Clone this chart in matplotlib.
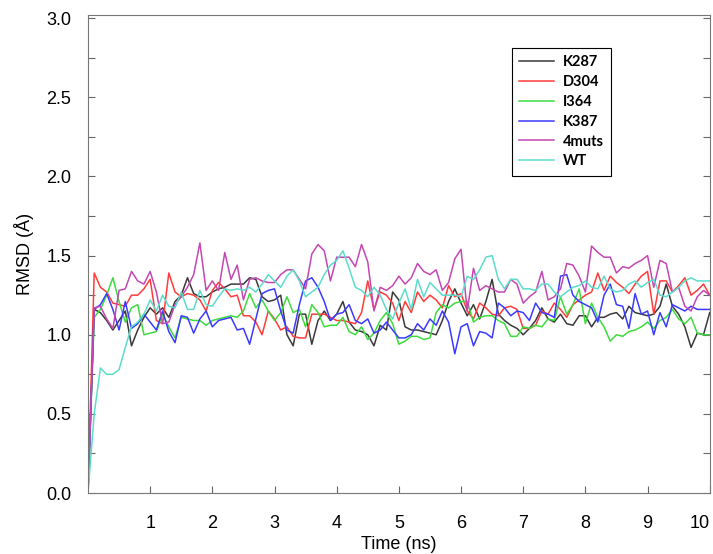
import numpy as np
import matplotlib
matplotlib.use("Agg")
import matplotlib.pyplot as plt
from matplotlib.ticker import MultipleLocator

# RMSD traces, one value every 0.1 ns (0..10 ns)
time_ns = np.arange(101) / 10.0

k287 = [0.0,
        1.16, 1.14, 1.09, 1.03, 1.09, 1.15, 0.93, 1.03, 1.11, 1.17, 1.13, 1.17, 1.11, 1.21, 1.25, 1.36, 1.26,
        1.24, 1.24, 1.27, 1.29, 1.30, 1.32, 1.32,
        1.32, 1.36, 1.35, 1.24, 1.21, 1.22, 1.25, 1.00, 0.93, 1.13, 1.13, 0.94, 1.09, 1.15, 1.09, 1.13, 1.21,
        1.08, 1.03, 1.02, 1.00, 0.93, 1.06, 1.03, 1.27, 1.22,
        1.05, 1.03, 1.03, 1.02, 1.01, 1.00, 1.09, 1.21, 1.29, 1.20, 1.12, 1.19, 1.10, 1.21, 1.35, 1.13, 1.09,
        1.06, 1.04, 1.00, 1.04, 1.09, 1.17, 1.10, 1.08,
        1.13, 1.07, 1.06, 1.12, 1.12, 1.05, 1.11, 1.11, 1.13, 1.14, 1.10, 1.18, 1.14, 1.13, 1.12, 1.13, 1.18,
        1.32, 1.18, 1.13, 1.05, 0.92, 1.01, 1.00, 1.14]

d304 = [0.0,
        1.39, 1.30, 1.27, 1.20, 1.19, 1.18, 1.25, 1.25, 1.29, 1.35, 1.09, 1.07, 1.39, 1.27, 1.24, 1.26, 1.25,
        1.22, 1.15, 1.28, 1.33, 1.29, 1.24, 1.25,
        1.12, 1.12, 1.08, 1.00, 1.15, 1.10, 1.03, 1.05, 0.99, 0.98, 0.98, 1.13, 1.13, 1.13, 1.11, 1.09, 1.09,
        1.08, 1.07, 1.14, 1.34, 1.16, 1.27, 1.25, 1.20, 1.09,
        1.21, 1.14, 1.27, 1.21, 1.25, 1.22, 1.17, 1.31, 1.24, 1.26, 1.15, 1.10, 1.20, 1.17, 1.13, 1.12, 1.17,
        1.18, 1.16, 1.04, 1.04, 1.06, 1.15, 1.13, 1.20,
        1.16, 1.11, 1.19, 1.22, 1.25, 1.27, 1.39, 1.28, 1.37, 1.33, 1.30, 1.26, 1.32, 1.37, 1.40, 1.13, 1.34,
        1.34, 1.27, 1.31, 1.36, 1.25, 1.28, 1.32, 1.25]

i364 = [0.0,
        1.11, 1.16, 1.25, 1.36, 1.21, 1.08, 1.17, 1.19, 1.00, 1.01, 1.02, 1.13, 1.05, 0.98, 1.11, 1.10, 1.09,
        1.09, 1.06, 1.09, 1.10, 1.11, 1.12, 1.11,
        1.15, 1.26, 1.17, 1.22, 1.15, 1.09, 1.14, 1.24, 1.14, 1.16, 1.05, 1.19, 1.14, 1.05, 1.06, 1.06, 1.11,
        1.02, 1.00, 1.05, 0.97, 1.01, 1.09, 1.14, 1.07, 0.94,
        0.96, 0.99, 0.99, 0.97, 0.98, 1.14, 1.19, 1.17, 1.20, 1.21, 1.21, 1.08, 1.11, 1.12, 1.12, 1.09, 1.07,
        0.99, 0.99, 1.05, 1.04, 1.06, 1.05, 1.10, 1.09,
        1.24, 1.13, 1.19, 1.29, 1.07, 1.20, 1.11, 1.05, 0.96, 1.00, 0.99, 1.02, 1.03, 1.05, 1.08, 1.04, 1.09,
        1.11, 1.16, 1.10, 1.07, 1.11, 1.01, 1.00, 1.00]

k387 = [0.0,
        1.16, 1.19, 1.26, 1.16, 1.03, 1.21, 1.04, 1.07, 1.13, 1.08, 1.03, 1.15, 1.02, 0.95, 1.12, 1.11, 1.01,
        1.10, 1.15, 1.05, 1.09, 1.10, 1.11, 1.03,
        1.04, 0.94, 1.10, 1.26, 1.28, 1.29, 1.15, 1.03, 1.01, 1.19, 1.34, 1.36, 1.30, 1.21, 1.09, 1.13, 1.14,
        1.19, 1.09, 1.07, 1.10, 1.01, 1.03, 1.08, 1.03, 0.98,
        0.98, 1.00, 1.07, 1.03, 1.10, 1.06, 1.15, 1.08, 0.88, 1.05, 1.07, 0.93, 1.02, 1.01, 0.98, 1.20, 1.17,
        1.12, 1.15, 1.14, 1.09, 1.20, 1.14, 1.13, 1.11,
        1.37, 1.38, 1.25, 1.21, 1.19, 1.17, 1.08, 1.25, 1.32, 1.19, 1.18, 1.04, 1.26, 1.13, 1.15, 1.00, 1.14,
        1.05, 1.19, 1.17, 1.15, 1.18, 1.16, 1.16, 1.16]

muts4 = [0.0,
         1.17, 1.18, 1.10, 1.04, 1.28, 1.29, 1.40, 1.34, 1.32, 1.40, 1.27, 1.07, 1.08, 1.19, 1.24, 1.30, 1.38,
         1.58, 1.28, 1.34, 1.28, 1.52, 1.35, 1.44,
         1.22, 1.35, 1.36, 1.34, 1.33, 1.33, 1.38, 1.41, 1.41, 1.35, 1.29, 1.51, 1.57, 1.53, 1.34, 1.49, 1.49,
         1.49, 1.43, 1.57, 1.46, 1.15, 1.30, 1.28, 1.31, 1.37,
         1.32, 1.36, 1.45, 1.40, 1.38, 1.41, 1.28, 1.33, 1.48, 1.54, 1.15, 1.42, 1.28, 1.31, 1.29, 1.27, 1.27,
         1.35, 1.32, 1.20, 1.24, 1.27, 1.40, 1.22, 1.24,
         1.29, 1.45, 1.44, 1.37, 1.27, 1.56, 1.52, 1.49, 1.49, 1.39, 1.43, 1.42, 1.45, 1.47, 1.50, 1.30, 1.47,
         1.45, 1.27, 1.30, 1.18, 1.15, 1.24, 1.28, 1.25]

wt = [0.0,
      0.50, 0.79, 0.75, 0.75, 0.78, 0.92, 1.05, 1.08, 1.13, 1.22, 1.15, 1.25, 1.18, 1.17, 1.27, 1.16, 1.16,
      1.28, 1.19, 1.18, 1.24, 1.29, 1.28, 1.29,
      1.28, 1.30, 1.27, 1.32, 1.38, 1.34, 1.30, 1.37, 1.41, 1.34, 1.24, 1.27, 1.30, 1.38, 1.44, 1.47, 1.53,
      1.42, 1.30, 1.28, 1.24, 1.30, 1.25, 1.16, 1.10, 1.20,
      1.29, 1.16, 1.35, 1.24, 1.33, 1.29, 1.25, 1.25, 1.25, 1.24, 1.37, 1.35, 1.41, 1.49, 1.50, 1.35, 1.29,
      1.35, 1.35, 1.29, 1.29, 1.28, 1.32, 1.32, 1.27,
      1.24, 1.27, 1.30, 1.31, 1.34, 1.30, 1.29, 1.37, 1.29, 1.27, 1.28, 1.32, 1.34, 1.30, 1.33, 1.35, 1.25,
      1.24, 1.27, 1.30, 1.34, 1.36, 1.34, 1.34, 1.34]

labels = ["K287", "D304", "I364", "K387", "4muts", "WT"]
series = [k287, d304, i364, k387, muts4, wt]
colors = ["#3a3a3a", "#ff3b3b", "#3ddc3d", "#3b3bff", "#c447b4", "#5cdccb"]

font = "Liberation Sans"
plt.rcParams["font.family"] = font

fig = plt.figure(figsize=(7.13, 5.54), dpi=100)
ax = fig.add_axes([0.1234, 0.110, 0.872, 0.863])

for vals, lab, col in zip(series, labels, colors):
    ax.plot(time_ns, vals, color=col, lw=1.1, label=lab)

ax.set_xlim(0, 10)
ax.set_ylim(0, 3.02)
ax.set_xticks(range(1, 11))
ax.yaxis.set_major_locator(MultipleLocator(0.5))
ax.yaxis.set_minor_locator(MultipleLocator(0.25))
ax.yaxis.set_major_formatter(matplotlib.ticker.FormatStrFormatter("%.1f"))
ax.tick_params(direction="in", length=5, width=0.8, color="#666666",
               labelsize=13, right=True, top=False)
ax.tick_params(which="minor", direction="in", length=5, width=0.8,
               color="#666666", right=True)
ax.tick_params(axis="x", pad=16)
ax.tick_params(axis="y", pad=12)
for s in ax.spines.values():
    s.set_color("#777777")

ax.get_xticklabels()[-1].set_horizontalalignment("right")
ax.set_xlabel("Time (ns)", fontsize=13, labelpad=3)
ax.set_ylabel("RMSD (Å)", fontsize=13, labelpad=9)

leg = ax.legend(loc="upper right", bbox_to_anchor=(0.842, 0.931),
                borderaxespad=0,
                prop={"family": "Lato", "weight": "bold", "size": 10.5},
                handlelength=2.4, handletextpad=0.6, fancybox=False,
                edgecolor="black", framealpha=1, borderpad=0.5,
                labelspacing=0.4)
leg.get_frame().set_linewidth(0.8)

fig.savefig("out.png", dpi=100)
